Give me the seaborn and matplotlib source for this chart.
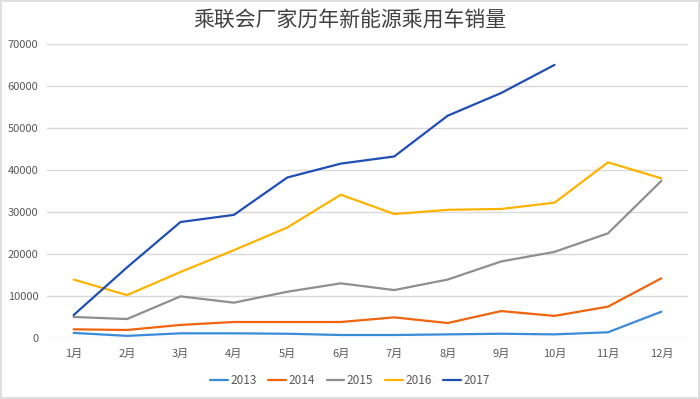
import numpy as np
import pandas as pd
import matplotlib
matplotlib.use("Agg")
import matplotlib.pyplot as plt
import seaborn as sns

# ================= DATA =================
months = ['1月', '2月', '3月', '4月', '5月', '6月', '7月', '8月', '9月', '10月', '11月', '12月']
years = ['2013', '2014', '2015', '2016', '2017']

sales_2013 = [1200, 500, 1100, 1100, 1000, 700, 700, 850, 1000, 850, 1350, 6250]
sales_2014 = [2050, 1900, 3100, 3800, 3800, 3800, 4900, 3550, 6400, 5250, 7450, 14200]
sales_2015 = [5000, 4500, 9900, 8400, 11000, 13000, 11400, 13900, 18200, 20500, 24900, 37400]
sales_2016 = [13900, 10200, 15700, 20900, 26300, 34100, 29500, 30500, 30700, 32200, 41800, 38000]
sales_2017 = [5450, 16800, 27600, 29300, 38200, 41500, 43200, 52900, 58300, 65000, np.nan, np.nan]

colors = {'2013': '#3A8BD8', '2014': '#F0640F', '2015': '#8F8F8F',
          '2016': '#FFB300', '2017': '#1F4FB5'}

rows = []
for yr, vals in zip(years, [sales_2013, sales_2014, sales_2015, sales_2016, sales_2017]):
    for m, v in zip(months, vals):
        rows.append({'月份': m, '年份': yr, '销量': v})
df = pd.DataFrame(rows).dropna()

# ================= PLOT =================
sns.set_theme(style="white")
plt.rcParams['font.family'] = ['Noto Sans CJK SC', 'DejaVu Sans']

fig = plt.figure(figsize=(7, 3.99), dpi=100)
ax = fig.add_axes([0.067, 0.153, 0.916, 0.737])

sns.lineplot(data=df, x='月份', y='销量', hue='年份', hue_order=years,
             palette=colors, linewidth=1.6, ax=ax, sort=False)

ax.set_xlim(-0.5, 11.5)
ax.set_ylim(0, 70000)
ax.set_yticks(np.arange(0, 70001, 10000))
ax.grid(axis='y', color='#D9D9D9', linewidth=1)
ax.set_axisbelow(True)
for s in ax.spines.values():
    s.set_visible(False)
ax.set_xlabel('')
ax.set_ylabel('')
ax.tick_params(axis='both', labelsize=8, colors='#595959', length=0)
ax.tick_params(axis='x', pad=8)
ax.tick_params(axis='y', pad=6)

ax.get_legend().remove()
handles, labels = ax.get_legend_handles_labels()
fig.legend(handles, labels, loc='center', bbox_to_anchor=(0.5, 0.046), ncol=5,
           frameon=False, fontsize=8.5, labelcolor='#595959',
           handlelength=1.5, handletextpad=0.2, columnspacing=1.0)

fig.suptitle('乘联会厂家历年新能源乘用车销量', y=0.975, fontsize=15, color='#404040')

# light frame around chart area
fig.patches.append(plt.Rectangle((0.001, 0.002), 0.997, 0.995, transform=fig.transFigure,
                                 fill=False, edgecolor='#D9D9D9', linewidth=1.2))

plt.savefig('out.png', dpi=100)
plt.close()
